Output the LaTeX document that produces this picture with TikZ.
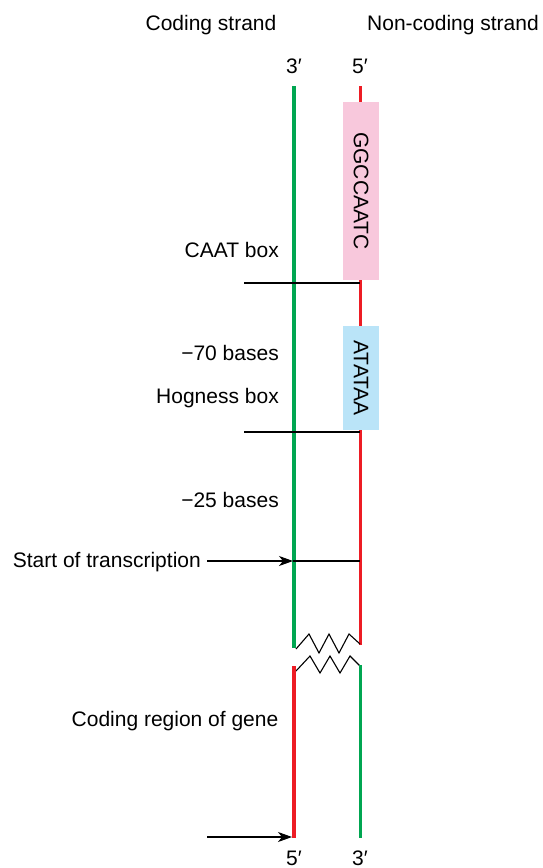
\documentclass[tikz,border=0pt]{standalone}
\usepackage{fontspec}
\setmainfont{Liberation Sans}
\usetikzlibrary{arrows.meta}
\definecolor{strandgreen}{HTML}{00A651}
\definecolor{strandred}{HTML}{ED1C24}
\definecolor{caatfill}{HTML}{F8C8DC}
\definecolor{tatafill}{HTML}{BAE4F8}
\tikzset{
  lbl/.style={inner sep=0pt, font=\fontsize{21}{25}\selectfont},
  rlbl/.style={lbl, anchor=base east},
  clbl/.style={lbl, anchor=base},
  greenline/.style={draw=strandgreen, line width=3.8pt},
  redline/.style={draw=strandred, line width=3pt},
  thin/.style={draw=black, line width=1.1pt},
  pointer/.style={thin, -{Stealth[length=14pt, width=10pt, inset=4pt]}},
  seqbox/.style={minimum width=36pt, inner sep=0pt, draw=none},
  seqtext/.style={lbl, rotate=-90, anchor=center},
}
\begin{document}
\begin{tikzpicture}[x=1pt, y=-1pt]
\useasboundingbox (0,0) rectangle (543,868);

% strand headings
\node[clbl] (hcod) at (211,30) {Coding strand};
\node[clbl] (hnon) at (453,30) {Non-coding strand};
\node[clbl] (t3) at (294,73) {3′};
\node[clbl] (t5) at (360,73) {5′};

% strand end points
\coordinate (gtop) at (294,86);
\coordinate (gbreak) at (294,648);
\coordinate (rtop) at (360,86);
\coordinate (rbreak) at (360,645);
\coordinate (rlow) at (294,666);
\coordinate (rbot) at (294,838);
\coordinate (glow) at (360,665);
\coordinate (gbot) at (360,838);

% upper part of the two strands
\draw[greenline] (gtop) -- (gbreak);
\draw[redline] (rtop) -- (rbreak);

% promoter boxes on the non-coding strand
\node[seqbox, fill=caatfill, minimum height=178pt] (caat) at (361,191) {};
\node[seqtext] (caattxt) at (caat.center) {GGCCAATC};
\node[seqbox, fill=tatafill, minimum height=104pt] (tata) at (361,378) {};
\node[seqtext] (tatatxt) at (tata.center) {ATATAA};

% region labels
\node[rlbl] (lcaat) at (279,257) {CAAT box};
\node[rlbl] (l70) at (279,360) {−70 bases};
\node[rlbl] (lhog) at (279,403) {Hogness box};
\node[rlbl] (l25) at (279,507) {−25 bases};
\node[rlbl] (lstart) at (201,567) {Start of transcription};
\node[clbl] (lcode) at (175,726) {Coding region of gene};

% boundary marks
\coordinate (caatL) at (244,283);
\coordinate (caatR) at (360,283);
\coordinate (hogL) at (244,432);
\coordinate (hogR) at (360,432);
\draw[thin] (caatL) -- (caatR);
\draw[thin] (hogL) -- (hogR);

% start of transcription
\coordinate (startA) at (207,561);
\coordinate (startG) at (293,561);
\coordinate (startR) at (360,561);
\draw[pointer] (startA) -- (startG);
\draw[thin] (startG) -- (startR);

% break in the strands
\draw[thin, line join=miter] (296,649) -- (309,634) -- (319,653) -- (329,634) -- (339,653) -- (349,634) -- (360,644);
\draw[thin, line join=miter] (296,671) -- (310,656) -- (320,673) -- (330,656) -- (340,673) -- (350,656) -- (360,666);

% lower part of the two strands
\draw[redline, line width=3.6pt] (rlow) -- (rbot);
\draw[greenline, line width=3pt] (glow) -- (gbot);

% pointer to the coding region
\coordinate (codeA) at (207,837);
\coordinate (codeE) at (292,837);
\draw[pointer] (codeA) -- (codeE);

\node[clbl] (b5) at (294,865) {5′};
\node[clbl] (b3) at (360,865) {3′};
\end{tikzpicture}
\end{document}
